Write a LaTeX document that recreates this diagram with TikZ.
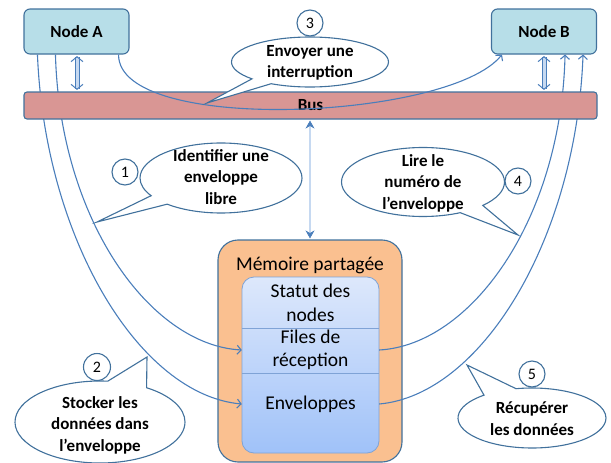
\documentclass[tikz,border=0pt]{standalone}
\usepackage{fontspec}
\setmainfont{Carlito}
\usetikzlibrary{shapes.callouts,shapes.geometric,arrows.meta,calc}
\definecolor{nodefill}{HTML}{B7DEE8}
\definecolor{edge}{HTML}{41719C}
\definecolor{busfill}{HTML}{D99694}
\definecolor{memfill}{HTML}{FAC090}
\definecolor{conn}{HTML}{4A7EBB}
\definecolor{shtop}{HTML}{DDE8FB}
\definecolor{shbot}{HTML}{A0C2F9}
\definecolor{inedge}{HTML}{7FA3D6}
\definecolor{dbl}{HTML}{C6D9F1}
\tikzset{
  box/.style={draw=edge, line width=1.1pt, rounded corners=6pt, fill=nodefill,
    font=\bfseries\fontsize{17}{20}\selectfont, minimum width=105pt, minimum height=45pt, inner sep=0pt},
  bubble/.style={ellipse callout, draw=edge, line width=1.1pt, fill=white, inner sep=0pt},
  btext/.style={align=center, font=\bfseries\fontsize{17}{21.5}\selectfont, inner sep=0pt},
  mtext/.style={align=center, font=\fontsize{19.5}{23.5}\selectfont, inner sep=0pt, minimum width=137pt},
  num/.style={circle, draw=edge, line width=1.1pt, fill=white, inner sep=0pt, minimum size=26pt,
    font=\fontsize{16}{16}\selectfont},
  flow/.style={draw=conn, line width=1.1pt, -{Straight Barb[length=4pt,width=9pt]}},
  dblarrow/.style={draw=conn, line width=1pt, double=dbl, double distance=3pt,
    {Straight Barb[length=5pt,width=12pt]}-{Straight Barb[length=5pt,width=12pt]}},
  thindbl/.style={draw=conn, line width=0.7pt, double=dbl, double distance=1.4pt,
    {Stealth[length=8pt,width=9pt]}-{Stealth[length=8pt,width=9pt]}}
}
\begin{document}
\begin{tikzpicture}[x=1pt,y=-1pt]
\useasboundingbox (0,0) rectangle (611,463);

% Nodes
\node[box] (A) at (76.5,31.5) {Node A};
\node[box] (B) at (544,31.5) {Node B};

% Memory
\node[draw=edge, line width=1.1pt, fill=memfill, rounded corners=20pt,
      minimum width=184pt, minimum height=222pt] (mem) at (310,351) {};
\node[draw=inedge, line width=0.8pt, rounded corners=12pt, top color=shtop, bottom color=shbot,
      minimum width=137pt, minimum height=176pt] (store) at (310.5,365) {};
\coordinate (d1) at (0,328);
\coordinate (d2) at (0,373);
\draw[inedge, line width=0.8pt] (store.west |- d1) -- (store.east |- d1);
\draw[inedge, line width=0.8pt] (store.west |- d2) -- (store.east |- d2);
\node[font=\fontsize{19.5}{23}\selectfont, inner sep=0pt] (memt) at (310,265) {Mémoire partagée};
\node[mtext] (statut) at (310.5,303) {Statut des\\nodes};
\node[mtext] (files) at (310.5,350) {Files de\\réception};
\node[mtext] (env) at (310.5,404) {Enveloppes};

% Curves from nodes to memory (behind bus)
\draw[flow] ([xshift=14pt]A.south west) .. controls (45,240) and (140,395) .. (env.west);
\draw[flow] ([xshift=32pt]A.south west) .. controls (60,220) and (150,345) .. (files.west);
\draw[flow] (files.east) .. controls (471,345) and (561,220) .. ([xshift=-32pt]B.south east);
\draw[flow] (env.east) .. controls (481,395) and (576,240) .. ([xshift=-14pt]B.south east);

% Bus
\node[draw=edge, line width=1.1pt, fill=busfill, rounded corners=3pt,
      minimum width=573pt, minimum height=27pt, font=\bfseries\fontsize{17}{20}\selectfont,
      inner sep=0pt] (bus) at (310.5,105.5) {Bus};

% Interrupt curve
\draw[flow] ([xshift=-11pt]A.south east) .. controls (118,135) and (450,120) .. ([xshift=11pt]B.south west);

% Double arrows
\coordinate (ab) at (77,0);
\coordinate (bb) at (544,0);
\draw[dblarrow, shorten <=1.5pt, shorten >=1.5pt] (A.south -| ab) -- (bus.north -| ab);
\draw[dblarrow, shorten <=1.5pt, shorten >=1.5pt] (B.south -| bb) -- (bus.north -| bb);
\draw[thindbl, shorten <=1pt, shorten >=1pt] (bus.south -| memt) -- (mem.north -| memt);

% Callouts
\coordinate (t3) at (207,103);
\node[bubble, minimum width=157pt, minimum height=50pt, callout absolute pointer={(t3)}, callout pointer arc=18] (c3) at (310,62) {};
\node[btext] (c3t) at (310,63) {Envoyer une\\interruption};

\coordinate (t1) at (97,222);
\node[bubble, minimum width=162pt, minimum height=70pt, callout absolute pointer={(t1)}, callout pointer arc=18] (c1) at (221,178) {};
\node[btext] (c1t) at (221,177) {Identifier une\\enveloppe\\libre};

\coordinate (t4) at (518,235);
\node[bubble, minimum width=163pt, minimum height=69pt, callout absolute pointer={(t4)}, callout pointer arc=20] (c4) at (423,182) {};
\node[btext] (c4t) at (423,183) {Lire le\\numéro de\\l’enveloppe};

\coordinate (t2) at (147,357);
\node[bubble, minimum width=170pt, minimum height=82pt, callout absolute pointer={(t2)}, callout pointer arc=28] (c2) at (100,422) {};
\node[btext] (c2t) at (100,425) {Stocker les\\données dans\\l’enveloppe};

\coordinate (t5) at (467,365);
\node[bubble, minimum width=148pt, minimum height=60pt, callout absolute pointer={(t5)}, callout pointer arc=28] (c5) at (532,418) {};
\node[btext] (c5t) at (532,418.5) {Récupérer\\les données};

% Numbers
\node[num] (n3) at (310,23) {3};
\node[num] (n1) at (125,172) {1};
\node[num, minimum size=27pt] (n2) at (97,367) {2};
\node[num] (n4) at (518,181) {4};
\node[num] (n5) at (532,374) {5};
\end{tikzpicture}
\end{document}
